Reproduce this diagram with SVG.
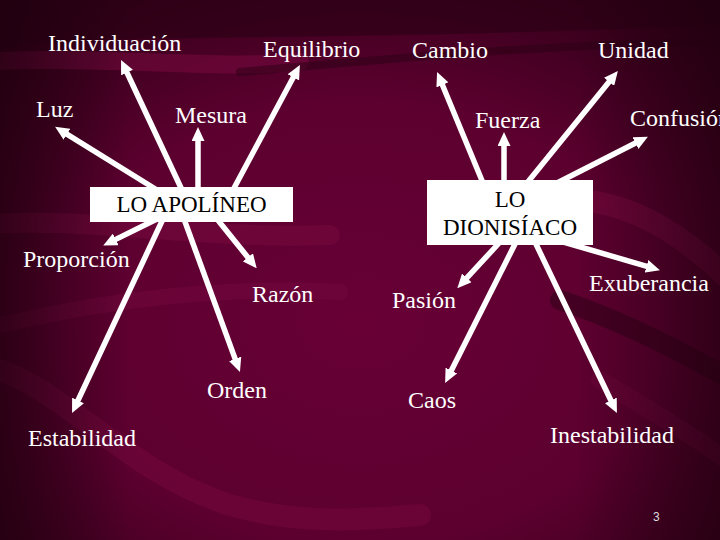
<svg xmlns="http://www.w3.org/2000/svg" width="720" height="540" viewBox="0 0 720 540">
<defs>
<radialGradient id="bg" cx="0.5" cy="0.6" r="0.75">
<stop offset="0" stop-color="#680036"/>
<stop offset="0.55" stop-color="#5c002f"/>
<stop offset="1" stop-color="#2a0014"/>
</radialGradient>
<linearGradient id="lside" x1="0" y1="0" x2="1" y2="0">
<stop offset="0" stop-color="#1e000e" stop-opacity="0.7"/>
<stop offset="0.18" stop-color="#1e000e" stop-opacity="0"/>
<stop offset="0.8" stop-color="#1e000e" stop-opacity="0"/>
<stop offset="1" stop-color="#1e000e" stop-opacity="0.6"/>
</linearGradient>
<marker id="ah" markerUnits="userSpaceOnUse" markerWidth="14" markerHeight="13" refX="4" refY="6.5" orient="auto">
<path d="M0,0 L14,6.5 L0,13 z" fill="#ffffff"/>
</marker>
<style>
.lbl{font-size:24px;fill:#ffffff}
.box{fill:#ffffff}
.btxt{font-size:23px;fill:#000000;text-anchor:middle}
.arr{stroke:#ffffff;stroke-width:5.5;fill:none;marker-end:url(#ah)}
.band{fill:none;stroke-linecap:round}
</style>
</defs>
<g id="background">
<rect width="720" height="540" fill="url(#bg)"/>
<path class="band" d="M-20,30 C120,10 260,25 720,5" stroke="#2a0014" stroke-width="40" opacity="0.6"/>
<path class="band" d="M-20,62 C100,55 220,70 300,62" stroke="#74083e" stroke-width="18" opacity="0.6"/>
<path class="band" d="M240,72 C380,60 520,45 720,42" stroke="#2a0014" stroke-width="8" opacity="0.5"/>
<path class="band" d="M-20,225 C80,215 200,240 330,235" stroke="#74083e" stroke-width="20" opacity="0.6"/>
<path class="band" d="M-20,330 C100,300 220,285 340,292" stroke="#74083e" stroke-width="16" opacity="0.5"/>
<path class="band" d="M-20,365 C60,380 120,470 230,505 C300,525 360,520 420,515" stroke="#74083e" stroke-width="22" opacity="0.55"/>
<path class="band" d="M580,200 C640,205 690,240 740,290" stroke="#78083f" stroke-width="22" opacity="0.6"/>
<path class="band" d="M560,300 C620,320 680,350 740,385" stroke="#2a0014" stroke-width="20" opacity="0.5"/>
<path class="band" d="M600,380 C650,410 700,440 740,470" stroke="#74083e" stroke-width="18" opacity="0.4"/>
<rect width="720" height="540" fill="url(#lside)"/>
</g>
<g id="connectors">
<line class="arr" x1="182" y1="190" x2="125.3" y2="69"/>
<line class="arr" x1="233" y1="190" x2="295.2" y2="73.8"/>
<line class="arr" x1="157" y1="190" x2="63.6" y2="132.1"/>
<line class="arr" x1="198" y1="190" x2="198" y2="137"/>
<line class="arr" x1="157" y1="219" x2="112.2" y2="241.1"/>
<line class="arr" x1="163" y1="219" x2="76.3" y2="404"/>
<line class="arr" x1="184" y1="219" x2="236.5" y2="362.6"/>
<line class="arr" x1="217" y1="219" x2="250.4" y2="260.5"/>
<line class="arr" x1="483" y1="183" x2="440.9" y2="81.2"/>
<line class="arr" x1="504" y1="183" x2="504" y2="142"/>
<line class="arr" x1="527" y1="183" x2="611.6" y2="78.7"/>
<line class="arr" x1="557" y1="183" x2="639" y2="141.3"/>
<line class="arr" x1="560" y1="241" x2="650.3" y2="267.4"/>
<line class="arr" x1="500" y1="242" x2="464.1" y2="280.9"/>
<line class="arr" x1="516" y1="242" x2="449.6" y2="374.1"/>
<line class="arr" x1="535" y1="242" x2="612.6" y2="404"/>
</g>
<g font-family="Liberation Serif, Tinos, Times New Roman, serif">
<g id="apolineo">
<rect class="box" x="90" y="187" width="203" height="35"/>
<text class="btxt" x="191.5" y="212">LO APOLÍNEO</text>
</g>
<g id="dionisiaco">
<rect class="box" x="427" y="180" width="166" height="65"/>
<text class="btxt" x="510" y="207">LO</text>
<text class="btxt" x="510" y="235">DIONISÍACO</text>
</g>
<g id="individuacion"><text class="lbl" x="48" y="51">Individuación</text></g>
<g id="equilibrio"><text class="lbl" x="263" y="57">Equilibrio</text></g>
<g id="luz"><text class="lbl" x="36" y="117">Luz</text></g>
<g id="mesura"><text class="lbl" x="175" y="123">Mesura</text></g>
<g id="proporcion"><text class="lbl" x="23" y="267">Proporción</text></g>
<g id="razon"><text class="lbl" x="252" y="302">Razón</text></g>
<g id="orden"><text class="lbl" x="207" y="398">Orden</text></g>
<g id="estabilidad"><text class="lbl" x="28" y="446">Estabilidad</text></g>
<g id="cambio"><text class="lbl" x="412" y="58">Cambio</text></g>
<g id="unidad"><text class="lbl" x="598" y="58">Unidad</text></g>
<g id="fuerza"><text class="lbl" x="475" y="128">Fuerza</text></g>
<g id="confusion"><text class="lbl" x="630" y="126">Confusión</text></g>
<g id="exuberancia"><text class="lbl" x="589" y="291">Exuberancia</text></g>
<g id="pasion"><text class="lbl" x="392" y="308">Pasión</text></g>
<g id="caos"><text class="lbl" x="408" y="408">Caos</text></g>
<g id="inestabilidad"><text class="lbl" x="550" y="443">Inestabilidad</text></g>
</g>
<g id="pagenum"><text x="653" y="521" font-family="Liberation Sans, Arial, sans-serif" font-size="12" fill="#dddddd">3</text></g>
</svg>
